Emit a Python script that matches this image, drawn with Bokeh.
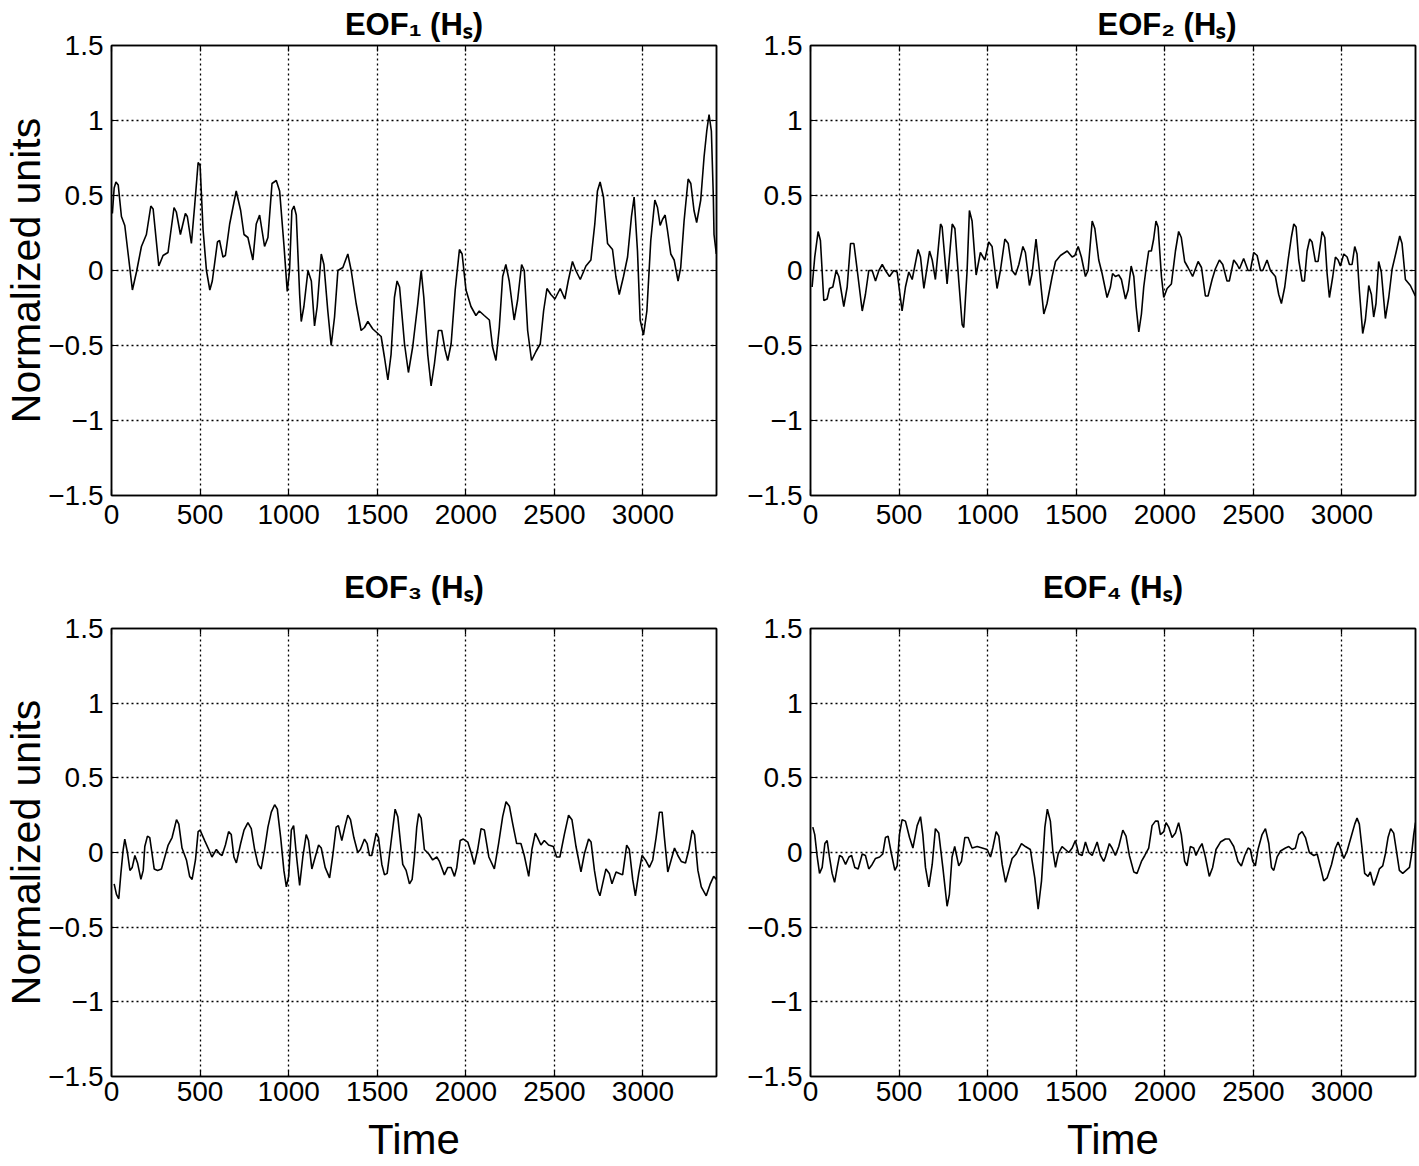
from bokeh.plotting import figure
from bokeh.models import LinearAxis, FixedTicker, Range1d, Title
from bokeh.layouts import column, row
from bokeh.embed import file_html
from bokeh.resources import INLINE

FONT = "Liberation Sans"

# ---------------- data ----------------
x_ticks = [0, 500, 1000, 1500, 2000, 2500, 3000]
x_tick_labels = ["0", "500", "1000", "1500", "2000", "2500", "3000"]
y_ticks = [-1.5, -1, -0.5, 0, 0.5, 1, 1.5]
y_tick_labels = ["\u22121.5", "\u22121", "\u22120.5", "0", "0.5", "1", "1.5"]
x_max = 3415
titles = ["EOF\u2081 (H\u209b)", "EOF\u2082 (H\u209b)", "EOF\u2083 (H\u209b)", "EOF\u2084 (H\u209b)"]
y_label = "Normalized units"
x_label = "Time"

x1 = [5, 15, 25, 38, 56, 75, 94, 118, 141, 169,
      197, 222, 235, 267, 291, 319, 353, 366, 389, 417,
      428, 451, 470, 489, 500, 517, 536, 555, 569, 598,
      610, 629, 643, 667, 704, 729, 748, 770, 798, 817,
      836, 864, 883, 906, 930, 949, 974, 992, 1005, 1018,
      1030, 1043, 1062, 1071, 1086, 1109, 1128, 1146, 1161, 1184,
      1199, 1221, 1240, 1259, 1278, 1306, 1334, 1353, 1381, 1409,
      1428, 1447, 1475, 1522, 1541, 1560, 1578, 1597, 1612, 1626,
      1654, 1676, 1700, 1729, 1748, 1763, 1785, 1804, 1823, 1845,
      1864, 1883, 1898, 1917, 1940, 1964, 1979, 2001, 2029, 2057,
      2076, 2104, 2133, 2151, 2170, 2189, 2208, 2226, 2245, 2273,
      2292, 2315, 2330, 2349, 2371, 2396, 2420, 2439, 2458, 2480,
      2503, 2533, 2559, 2578, 2602, 2621, 2646, 2678, 2706, 2728,
      2743, 2758, 2777, 2800, 2828, 2847, 2866, 2890, 2913, 2935,
      2950, 2969, 2984, 3003, 3022, 3044, 3067, 3082, 3097, 3110,
      3125, 3138, 3157, 3176, 3198, 3213, 3232, 3255, 3270, 3288,
      3303, 3326, 3345, 3360, 3373, 3386, 3397, 3401, 3414]
y1 = [0.38, 0.55, 0.59, 0.57, 0.36, 0.30, 0.11, -0.13, -0.01, 0.16,
      0.24, 0.43, 0.41, 0.03, 0.10, 0.12, 0.42, 0.39, 0.24, 0.38,
      0.36, 0.18, 0.44, 0.72, 0.70, 0.27, 0.0, -0.13, -0.07, 0.19,
      0.20, 0.09, 0.10, 0.31, 0.53, 0.40, 0.24, 0.22, 0.07, 0.31,
      0.37, 0.16, 0.22, 0.58, 0.60, 0.53, 0.16, -0.14, 0.0, 0.40,
      0.43, 0.37, -0.16, -0.34, -0.24, 0.0, -0.07, -0.37, -0.24, 0.11,
      0.04, -0.27, -0.50, -0.31, 0.0, 0.02, 0.11, 0.0, -0.22, -0.40,
      -0.38, -0.34, -0.39, -0.44, -0.58, -0.73, -0.56, -0.18, -0.07, -0.11,
      -0.49, -0.68, -0.51, -0.22, 0.0, -0.18, -0.56, -0.77, -0.62, -0.40,
      -0.40, -0.53, -0.60, -0.49, -0.13, 0.14, 0.11, -0.13, -0.24, -0.30,
      -0.27, -0.30, -0.33, -0.51, -0.60, -0.38, -0.04, 0.04, -0.07, -0.33,
      -0.20, 0.04, 0.0, -0.40, -0.60, -0.54, -0.49, -0.27, -0.12, -0.16,
      -0.19, -0.12, -0.19, -0.07, 0.06, 0.0, -0.06, 0.03, 0.07, 0.31,
      0.53, 0.59, 0.49, 0.18, 0.14, -0.04, -0.16, -0.04, 0.09, 0.36,
      0.49, 0.13, -0.33, -0.43, -0.27, 0.20, 0.47, 0.42, 0.30, 0.34,
      0.37, 0.27, 0.11, 0.07, -0.07, 0.02, 0.33, 0.61, 0.58, 0.40,
      0.32, 0.47, 0.76, 0.93, 1.04, 0.93, 0.50, 0.24, 0.11]

x2 = [9, 24, 43, 56, 75, 94, 107, 126, 145, 160,
      188, 207, 226, 245, 264, 292, 310, 329, 348, 367,
      386, 405, 423, 446, 470, 489, 517, 536, 555, 574,
      607, 621, 640, 672, 687, 705, 734, 743, 771, 800,
      815, 837, 856, 865, 884, 897, 912, 935, 959, 984,
      1006, 1025, 1053, 1072, 1097, 1116, 1138, 1157, 1176, 1199,
      1213, 1236, 1251, 1273, 1292, 1317, 1335, 1364, 1383, 1411,
      1449, 1477, 1492, 1511, 1529, 1552, 1567, 1590, 1605, 1627,
      1646, 1674, 1693, 1705, 1721, 1740, 1755, 1778, 1793, 1810,
      1825, 1838, 1853, 1868, 1881, 1894, 1909, 1924, 1937, 1950,
      1962, 1981, 1994, 2013, 2037, 2060, 2078, 2093, 2112, 2131,
      2157, 2188, 2207, 2229, 2244, 2267, 2285, 2308, 2327, 2351,
      2364, 2389, 2408, 2421, 2445, 2470, 2483, 2502, 2521, 2540,
      2553, 2577, 2596, 2624, 2643, 2658, 2677, 2696, 2714, 2728,
      2741, 2756, 2775, 2788, 2803, 2818, 2831, 2850, 2865, 2888,
      2903, 2916, 2929, 2948, 2963, 2978, 2991, 3010, 3029, 3042,
      3057, 3072, 3085, 3098, 3117, 3132, 3151, 3166, 3179, 3192,
      3207, 3222, 3245, 3264, 3283, 3305, 3326, 3339, 3358, 3386,
      3414]
y2 = [-0.11, 0.09, 0.26, 0.20, -0.20, -0.19, -0.12, -0.11, 0.0, -0.04,
      -0.24, -0.11, 0.18, 0.18, 0.0, -0.27, -0.16, 0.0, 0.0, -0.07,
      0.0, 0.04, 0.0, -0.04, 0.0, -0.01, -0.27, -0.11, -0.01, -0.06,
      0.14, 0.09, -0.12, 0.13, 0.07, -0.06, 0.31, 0.29, -0.09, 0.31,
      0.28, -0.07, -0.36, -0.38, 0.0, 0.40, 0.33, -0.03, 0.12, 0.07,
      0.19, 0.16, -0.12, 0.0, 0.21, 0.18, 0.0, -0.03, 0.04, 0.16,
      0.12, -0.10, -0.02, 0.21, 0.0, -0.29, -0.22, -0.04, 0.06, 0.10,
      0.13, 0.09, 0.10, 0.16, 0.09, -0.04, 0.0, 0.33, 0.28, 0.07,
      -0.02, -0.18, -0.11, -0.02, -0.04, -0.03, -0.06, -0.19, -0.13, 0.03,
      -0.04, -0.24, -0.41, -0.29, -0.11, 0.01, 0.13, 0.13, 0.21, 0.33,
      0.29, -0.04, -0.18, -0.12, -0.09, 0.13, 0.26, 0.22, 0.06, 0.02,
      -0.04, 0.06, 0.02, -0.17, -0.17, -0.06, 0.01, 0.07, 0.04, -0.07,
      -0.07, 0.07, 0.04, 0.01, 0.08, 0.0, 0.0, 0.12, 0.10, 0.0,
      0.0, 0.07, 0.0, -0.04, -0.16, -0.22, -0.11, 0.07, 0.22, 0.31,
      0.29, 0.07, -0.07, -0.07, 0.13, 0.21, 0.19, 0.06, 0.06, 0.26,
      0.22, -0.02, -0.18, -0.04, 0.09, 0.07, 0.03, 0.11, 0.09, 0.04,
      0.04, 0.16, 0.11, -0.13, -0.42, -0.33, -0.10, -0.16, -0.31, -0.22,
      0.06, -0.01, -0.32, -0.18, 0.01, 0.12, 0.23, 0.18, -0.06, -0.10,
      -0.17]

x3 = [15, 28, 41, 53, 66, 75, 90, 104, 117, 132,
      147, 166, 179, 188, 203, 216, 241, 260, 282, 301,
      320, 342, 367, 380, 398, 423, 441, 455, 474, 489,
      500, 526, 549, 567, 592, 611, 624, 643, 661, 676,
      691, 705, 729, 748, 770, 789, 808, 827, 845, 864,
      883, 902, 921, 936, 955, 973, 987, 1000, 1015, 1028,
      1043, 1062, 1080, 1099, 1112, 1131, 1150, 1169, 1184, 1206,
      1231, 1249, 1268, 1281, 1300, 1319, 1334, 1349, 1368, 1390,
      1405, 1428, 1443, 1456, 1469, 1494, 1507, 1526, 1541, 1556,
      1575, 1601, 1616, 1644, 1663, 1682, 1697, 1710, 1723, 1734,
      1748, 1766, 1791, 1813, 1836, 1851, 1879, 1898, 1917, 1936,
      1949, 1968, 1986, 2011, 2030, 2048, 2067, 2086, 2105, 2130,
      2161, 2185, 2208, 2227, 2246, 2265, 2287, 2311, 2330, 2355,
      2373, 2392, 2405, 2424, 2443, 2467, 2494, 2512, 2531, 2556,
      2580, 2599, 2622, 2650, 2669, 2693, 2707, 2726, 2744, 2757,
      2772, 2791, 2810, 2825, 2848, 2867, 2885, 2908, 2923, 2942,
      2957, 2976, 2995, 3014, 3036, 3055, 3074, 3093, 3108, 3121,
      3140, 3159, 3178, 3197, 3216, 3240, 3259, 3278, 3291, 3310,
      3329, 3357, 3380, 3399, 3415]
y3 = [-0.21, -0.28, -0.31, -0.14, 0.02, 0.09, 0.0, -0.12, -0.10, -0.02,
      -0.07, -0.18, -0.12, 0.04, 0.11, 0.10, -0.11, -0.12, -0.11, -0.03,
      0.05, 0.10, 0.22, 0.19, 0.03, -0.05, -0.16, -0.18, -0.05, 0.14,
      0.15, 0.08, 0.02, -0.03, 0.02, -0.01, -0.02, 0.05, 0.14, 0.12,
      -0.03, -0.07, 0.06, 0.15, 0.20, 0.16, 0.02, -0.08, -0.11, 0.02,
      0.17, 0.27, 0.32, 0.29, 0.10, -0.12, -0.23, -0.16, 0.15, 0.18,
      -0.01, -0.22, -0.03, 0.12, 0.08, -0.11, -0.03, 0.05, 0.03, -0.10,
      -0.17, -0.02, 0.17, 0.18, 0.08, 0.18, 0.25, 0.22, 0.10, 0.0,
      0.02, 0.09, 0.06, -0.02, -0.02, 0.13, 0.10, -0.08, -0.15, -0.14,
      0.04, 0.29, 0.24, -0.08, -0.12, -0.21, -0.18, -0.03, 0.17, 0.26,
      0.23, 0.02, -0.01, -0.05, -0.03, -0.06, -0.15, -0.10, -0.10, -0.16,
      -0.10, 0.08, 0.09, 0.07, 0.0, -0.08, 0.02, 0.16, 0.15, -0.03,
      -0.11, 0.06, 0.24, 0.34, 0.31, 0.19, 0.06, 0.06, -0.02, -0.16,
      0.02, 0.13, 0.10, 0.05, 0.08, 0.05, 0.04, -0.03, -0.03, 0.12,
      0.25, 0.22, 0.04, -0.13, -0.01, 0.09, 0.07, -0.12, -0.25, -0.29,
      -0.21, -0.11, -0.14, -0.21, -0.13, -0.14, -0.15, 0.05, 0.02, -0.18,
      -0.29, -0.14, -0.02, -0.05, -0.10, -0.05, 0.10, 0.27, 0.27, 0.10,
      -0.13, -0.05, 0.03, -0.02, -0.06, -0.07, 0.02, 0.15, 0.12, -0.12,
      -0.23, -0.29, -0.21, -0.16, -0.18]

x4 = [13, 24, 38, 51, 66, 81, 94, 107, 122, 136,
      151, 164, 179, 198, 217, 232, 250, 269, 292, 310,
      329, 348, 367, 390, 408, 423, 438, 457, 476, 489,
      502, 517, 536, 559, 578, 602, 621, 634, 649, 668,
      687, 705, 724, 747, 771, 784, 799, 814, 837, 852,
      871, 890, 912, 941, 969, 997, 1016, 1029, 1048, 1063,
      1082, 1101, 1119, 1138, 1161, 1191, 1213, 1241, 1266, 1285,
      1304, 1323, 1337, 1354, 1368, 1383, 1398, 1420, 1439, 1458,
      1477, 1495, 1514, 1533, 1552, 1571, 1590, 1618, 1637, 1655,
      1665, 1687, 1702, 1721, 1740, 1763, 1781, 1800, 1825, 1843,
      1868, 1887, 1909, 1928, 1947, 1962, 1975, 1994, 2007, 2022,
      2041, 2060, 2078, 2093, 2112, 2125, 2144, 2163, 2176, 2195,
      2210, 2229, 2251, 2270, 2289, 2314, 2342, 2364, 2389, 2413,
      2432, 2451, 2470, 2483, 2496, 2511, 2526, 2549, 2568, 2587,
      2602, 2615, 2634, 2653, 2681, 2700, 2719, 2737, 2756, 2775,
      2794, 2816, 2841, 2860, 2879, 2897, 2916, 2941, 2963, 2978,
      2991, 3010, 3029, 3053, 3072, 3085, 3098, 3113, 3128, 3147,
      3160, 3179, 3192, 3211, 3230, 3245, 3260, 3275, 3292, 3305,
      3324, 3343, 3362, 3381, 3392, 3405, 3415]
y4 = [0.17, 0.12, -0.03, -0.14, -0.10, 0.06, 0.08, -0.03, -0.14, -0.20,
      -0.10, -0.02, -0.03, -0.08, -0.03, -0.02, -0.10, -0.11, -0.01, -0.02,
      -0.11, -0.08, -0.04, -0.03, -0.01, 0.10, 0.11, -0.01, -0.12, -0.09,
      0.12, 0.22, 0.21, 0.10, 0.03, 0.18, 0.24, 0.12, -0.10, -0.23,
      -0.08, 0.16, 0.13, -0.10, -0.36, -0.28, -0.03, 0.04, -0.09, -0.06,
      0.10, 0.10, 0.03, 0.04, 0.03, 0.02, -0.03, 0.03, 0.14, 0.11,
      -0.08, -0.20, -0.12, -0.04, -0.01, 0.06, 0.04, 0.02, -0.17, -0.38,
      -0.19, 0.17, 0.29, 0.21, 0.01, -0.10, -0.01, 0.04, 0.02, 0.0,
      0.03, 0.08, -0.01, -0.02, 0.07, 0.0, -0.02, 0.07, -0.02, -0.06,
      -0.03, 0.06, 0.03, -0.02, 0.04, 0.15, 0.11, -0.02, -0.13, -0.14,
      -0.06, -0.02, 0.03, 0.18, 0.21, 0.21, 0.12, 0.14, 0.20, 0.17,
      0.10, 0.13, 0.20, 0.12, -0.06, -0.09, 0.04, 0.03, -0.02, 0.03,
      0.06, -0.03, -0.16, -0.10, 0.02, 0.07, 0.09, 0.09, 0.04, -0.06,
      -0.09, -0.02, 0.03, 0.02, -0.06, -0.09, 0.02, 0.12, 0.16, 0.06,
      -0.10, -0.12, -0.03, 0.01, 0.03, 0.04, 0.02, 0.03, 0.12, 0.14,
      0.10, 0.0, -0.02, -0.01, -0.10, -0.19, -0.17, -0.08, 0.03, 0.07,
      0.03, -0.04, 0.01, 0.11, 0.19, 0.23, 0.19, 0.03, -0.14, -0.16,
      -0.13, -0.22, -0.18, -0.11, -0.09, -0.01, 0.10, 0.16, 0.13, 0.03,
      -0.12, -0.14, -0.12, -0.10, -0.02, 0.12, 0.20]


def style_axis(ax, standoff):
    ax.major_label_text_font = FONT
    ax.major_label_text_font_size = "28px"
    ax.major_label_text_color = "black"
    ax.major_label_standoff = standoff
    ax.major_tick_in = 6
    ax.major_tick_out = 0
    ax.major_tick_line_color = "black"
    ax.major_tick_line_width = 1.2
    ax.minor_tick_line_color = None
    ax.axis_line_color = "black"
    ax.axis_line_width = 1.5


def make_panel(xs, ys, title, frame_w, frame_h, left, right, top, bottom,
               show_ylabel, show_xlabel, title_standoff, title_align, title_offset,
               xtick_standoff):
    p = figure(width=left + frame_w + right, height=top + frame_h + bottom,
               x_range=Range1d(0, x_max), y_range=Range1d(-1.5, 1.5),
               output_backend="svg", toolbar_location=None,
               min_border_left=left, min_border_right=right,
               min_border_top=top, min_border_bottom=bottom)
    p.background_fill_color = "white"
    p.border_fill_color = "white"
    p.outline_line_color = "black"
    p.outline_line_width = 1.5
    p.outline_line_alpha = 1.0

    xax = p.below[0]
    yax = p.left[0]
    xax.ticker = FixedTicker(ticks=x_ticks)
    yax.ticker = FixedTicker(ticks=y_ticks)
    xax.major_label_overrides = {t: l for t, l in zip(x_ticks, x_tick_labels)}
    yax.major_label_overrides = {t: l for t, l in zip(y_ticks, y_tick_labels)}
    style_axis(xax, xtick_standoff)
    style_axis(yax, 8)

    if show_ylabel:
        yax.axis_label = y_label
        yax.axis_label_text_font = FONT
        yax.axis_label_text_font_size = "41px"
        yax.axis_label_text_font_style = "normal"
        yax.axis_label_text_color = "black"
        yax.axis_label_standoff = -4
    if show_xlabel:
        xax.axis_label = x_label
        xax.axis_label_text_font = FONT
        xax.axis_label_text_font_size = "42px"
        xax.axis_label_text_font_style = "normal"
        xax.axis_label_text_color = "black"
        xax.axis_label_standoff = 12

    # mirrored inward ticks on top / right (no labels)
    top_ax = LinearAxis(ticker=FixedTicker(ticks=x_ticks))
    right_ax = LinearAxis(ticker=FixedTicker(ticks=y_ticks))
    for ax in (top_ax, right_ax):
        style_axis(ax, 0)
        ax.major_label_text_font_size = "0px"
        ax.major_label_text_color = None
    p.add_layout(top_ax, "above")
    p.add_layout(right_ax, "right")

    for g, tk in ((p.xgrid[0], x_ticks), (p.ygrid[0], y_ticks)):
        g.ticker = FixedTicker(ticks=tk)
        g.grid_line_color = "black"
        g.grid_line_dash = "2 3"
        g.grid_line_width = 1.3
        g.grid_line_alpha = 1.0

    p.line(xs, ys, line_color="black", line_width=1.6)

    p.title = Title(text=title, align=title_align, offset=title_offset,
                    standoff=title_standoff, text_font=FONT,
                    text_font_size="31px", text_font_style="bold",
                    text_color="black")
    return p


p1 = make_panel(x1, y1, titles[0], 606, 450, left=110, right=10, top=45, bottom=49,
                show_ylabel=True, show_xlabel=False, title_standoff=8,
                title_align="center", title_offset=0, xtick_standoff=9)
p2 = make_panel(x2, y2, titles[1], 605, 450, left=84, right=3, top=45, bottom=49,
                show_ylabel=False, show_xlabel=False, title_standoff=8,
                title_align="left", title_offset=287, xtick_standoff=9)
p3 = make_panel(x3, y3, titles[2], 606, 449, left=110, right=10, top=84, bottom=88,
                show_ylabel=True, show_xlabel=True, title_standoff=47,
                title_align="center", title_offset=0, xtick_standoff=5)
p4 = make_panel(x4, y4, titles[3], 605, 449, left=84, right=3, top=84, bottom=88,
                show_ylabel=False, show_xlabel=True, title_standoff=47,
                title_align="center", title_offset=0, xtick_standoff=5)

layout = column(row(p1, p2), row(p3, p4))

with open("out.html", "w") as f:
    f.write(file_html(layout, INLINE))
